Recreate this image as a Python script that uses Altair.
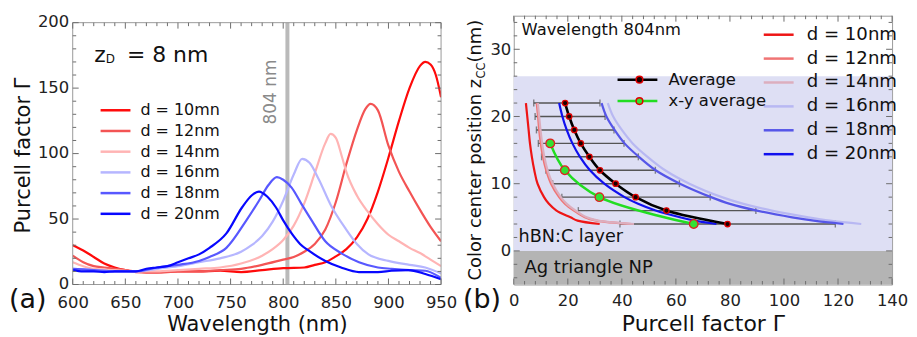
import altair as alt
import pandas as pd

FONT = "DejaVu Sans"
TXT = "#111111"
TICK = "#6e6e6e"
FRAME = "#9a9a9a"

# ---------------- panel (a): Purcell factor vs wavelength ----------------
A_LABELS = ["d = 10mn", "d = 12nm", "d = 14nm", "d = 16nm", "d = 18nm", "d = 20nm"]
A_COLORS = ["#ff0a0a", "#f35454", "#ffb4b4", "#b6b6ff", "#5858ff", "#0808ff"]

WL_D10 = [600, 610, 620, 630, 640, 650, 660, 670, 680, 700, 720, 740, 760, 780, 800,
          820, 830, 840, 850, 860, 870, 880, 890, 900, 910, 920, 930, 935, 940, 945, 950]
PF_D10 = [30, 26, 21, 16, 13, 11, 10, 9.5, 9.5, 10, 10, 10.5, 9.5, 11, 12.5,
          13, 15, 17, 21.5, 27, 36, 50, 71, 97, 125, 150, 167, 170, 168, 160, 143]
WL_D12 = [600, 610, 620, 630, 640, 650, 660, 680, 700, 720, 740, 760, 780, 800, 810,
          820, 830, 840, 850, 860, 870, 878, 883, 890, 900, 910, 920, 930, 940, 950]
PF_D12 = [22, 17, 14, 13, 12, 11, 9.5, 9, 10, 10, 11, 12, 15, 19, 21,
          25, 31, 42, 63, 92, 118, 134, 138, 133, 106, 86, 71, 57, 44, 33]
WL_D14 = [600, 610, 620, 640, 660, 680, 700, 720, 740, 760, 780, 790, 800, 810, 820,
          830, 840, 845, 850, 856, 860, 870, 880, 890, 900, 910, 920, 930, 940, 950]
PF_D14 = [17, 14, 12, 11, 10, 10, 11, 12, 13, 16, 22, 27, 34, 45, 62,
          85, 108, 115, 112, 97, 86, 68, 56, 46, 38, 33, 28, 24, 19, 14]
WL_D16 = [600, 620, 640, 660, 680, 700, 720, 740, 760, 770, 780, 790, 800, 810, 818,
          825, 834, 845, 859, 870, 881, 900, 920, 935, 950]
PF_D16 = [12, 11, 10, 10, 12, 14, 17, 20, 25, 30, 37, 48, 64, 84, 96,
          93, 80, 61, 43, 31, 23, 18, 15, 13, 8.5]
WL_D18 = [600, 620, 640, 660, 680, 700, 720, 730, 746, 765, 777, 786, 794, 800, 808,
          817, 827, 840, 855, 872, 890, 903, 920, 935, 948, 950]
PF_D18 = [12, 11, 10, 10, 13, 15, 18, 21, 28, 49, 64, 76, 82, 80, 74,
          62, 49, 33, 24, 17, 13, 12, 11, 10.5, 6, 5]
WL_D20 = [600, 610, 620, 630, 640, 650, 660, 670, 680, 690, 700, 710, 720, 730, 746, 761,
          770, 777, 785, 793, 800, 808, 816, 824, 840, 855, 872, 890, 903, 919, 935, 950]
PF_D20 = [11, 10, 10, 9.5, 10, 10, 10, 12, 13, 14, 17, 20, 23, 28, 39, 59,
          68, 71, 67, 59, 49, 39, 31, 26, 18, 13, 9.5, 9.5, 10.5, 11, 8, 4]

A_SERIES = [(WL_D10, PF_D10), (WL_D12, PF_D12), (WL_D14, PF_D14),
            (WL_D16, PF_D16), (WL_D18, PF_D18), (WL_D20, PF_D20)]

A_XMAJ = [600, 650, 700, 750, 800, 850, 900, 950]
A_XMIN = [v for v in range(600, 951, 10) if v not in A_XMAJ]
A_YMAJ = [0, 50, 100, 150, 200]
A_YMIN = [v for v in range(0, 201, 10) if v not in A_YMAJ]
LAMBDA_MARK = [804]

# ---------------- panel (b): Purcell factor vs colour-centre position ----------------
B_LABELS = ["d = 10nm", "d = 12nm", "d = 14nm", "d = 16nm", "d = 18nm", "d = 20nm"]
B_COLORS = ["#ee1515", "#f07474", "#dcaebe", "#b8b8f2", "#5656e8", "#1010ee"]

Z_CURVE = [22, 20, 18, 16, 14, 12, 10, 8, 7, 6, 5, 4.5, 4]
PF_B10 = [4.5, 5.0, 5.5, 6.0, 6.7, 7.6, 8.8, 11.2, 13.0, 15.8, 21.0, 23.6, 31.8]
PF_B12 = [8.5, 9.0, 9.4, 10.0, 10.8, 12.0, 13.8, 16.8, 19.0, 22.3, 26.3, 30.5, 43.6]
PF_B14 = [8.9, 9.4, 9.9, 10.5, 11.3, 12.5, 14.4, 17.4, 19.6, 22.9, 27.0, 31.3, 44.5]
PF_B16 = [34.8, 36.8, 40.0, 44.0, 49.5, 56.0, 65.0, 77.0, 85.0, 95.5, 109.0, 117.0, 128.6]
PF_B18 = [32.5, 34.3, 37.3, 41.0, 46.3, 52.5, 61.5, 73.0, 80.0, 90.0, 103.0, 111.0, 122.0]
PF_B20 = [16.8, 18.0, 19.6, 21.7, 24.5, 28.2, 33.5, 41.0, 46.0, 52.5, 61.5, 67.0, 75.0]
B_SERIES = [PF_B10, PF_B12, PF_B14, PF_B16, PF_B18, PF_B20]

Z_AVG = [22, 20, 18, 16, 14, 12, 10, 8, 6, 4]
PF_AVG = [19.0, 20.5, 22.4, 24.8, 28.0, 31.9, 37.7, 45.1, 56.5, 79.1]
PF_ERR_LO = [7.4, 7.9, 8.4, 9.1, 10.3, 11.9, 14.4, 17.8, 23.9, 39.3]
PF_ERR_HI = [31.9, 33.8, 37.1, 40.8, 46.1, 52.4, 61.3, 72.7, 89.6, 119.0]
Z_XY = [16, 12, 8, 4]
PF_XY = [13.5, 18.9, 31.7, 66.6]
AVG_LABELS = ["Average", "x-y average"]
AVG_MARKER_KEYS = ["marker: Average", "marker: x-y average"]

LAYER_HBN = (0, 26)
LAYER_AG = (-5, 0)

B_XMAJ = [0, 20, 40, 60, 80, 100, 120, 140]
B_XMIN = [v for v in range(0, 141, 4) if v not in B_XMAJ]
B_YMAJ = [0, 10, 20, 30]
B_YMIN = [v for v in range(-4, 35, 2) if v not in B_YMAJ]

WA, HA = 370, 270      # panel (a) group; its frame starts A_TOP px below the group top
A_TOP = 7
WB, HB = 380, 270


def ticks(xfield, xmaj, xmin, yfield, ymaj, ymin, xenc, yenc, W, H, top=0):
    out = []
    for vals, L in ((xmaj, 6), (xmin, 3.5)):
        d = pd.DataFrame({xfield: vals})
        out.append(alt.Chart(d).mark_rule(color=TICK, strokeWidth=1).encode(
            x=xenc, y=alt.value(H), y2=alt.value(H - L)))
        out.append(alt.Chart(d).mark_rule(color=TICK, strokeWidth=1).encode(
            x=xenc, y=alt.value(top), y2=alt.value(top + L)))
    for vals, L in ((ymaj, 6), (ymin, 3.5)):
        d = pd.DataFrame({yfield: vals})
        out.append(alt.Chart(d).mark_rule(color=TICK, strokeWidth=1).encode(
            y=yenc, x=alt.value(0), x2=alt.value(L)))
        out.append(alt.Chart(d).mark_rule(color=TICK, strokeWidth=1).encode(
            y=yenc, x=alt.value(W), x2=alt.value(W - L)))
    return out


def frame(W, H, top):
    one = pd.DataFrame({"t": [0]})
    r = lambda **kw: alt.Chart(one).mark_rule(color=FRAME, strokeWidth=1).encode(**kw)
    return [r(x=alt.value(0), x2=alt.value(W), y=alt.value(top)),
            r(x=alt.value(0), x2=alt.value(W), y=alt.value(H)),
            r(x=alt.value(0), y=alt.value(top), y2=alt.value(H)),
            r(x=alt.value(W), y=alt.value(top), y2=alt.value(H))]


def label_text(t, x, y, size, angle=0, align="left", baseline="alphabetic", color=TXT):
    return alt.Chart(pd.DataFrame({"t": [t]})).mark_text(
        font=FONT, fontSize=size, angle=angle, align=align, baseline=baseline,
        color=color).encode(x=alt.value(x), y=alt.value(y), text="t:N")


def top_spacer(k):
    # invisible rule that fixes how far the panel reaches above its group top
    return alt.Chart(pd.DataFrame({"t": [0]})).mark_rule(strokeOpacity=0, strokeWidth=0.01).encode(
        x=alt.value(1), y=alt.value(-k), y2=alt.value(0))


# ---------- build panel (a) ----------
rows = []
for lab, (wl, pf) in zip(A_LABELS, A_SERIES):
    for w, p in zip(wl, pf):
        rows.append({"series": lab, "wl": w, "pf": p})
df_a = pd.DataFrame(rows)

AX_A_X = alt.Axis(values=A_XMAJ, ticks=False, tickSize=0, domain=False, grid=False,
                  labelFont=FONT, labelFontSize=16.5, labelColor="#222", labelPadding=10,
                  labelFlush=False,
                  title="Wavelength (nm)", titleFont=FONT, titleFontSize=21,
                  titleFontWeight="normal", titleColor=TXT, titlePadding=3)
AX_A_Y = alt.Axis(values=A_YMAJ, ticks=False, tickSize=0, domain=False, grid=False,
                  labelFont=FONT, labelFontSize=16.5, labelColor="#222", labelPadding=4,
                  labelFlush=False, labelOffset=-1,
                  title="Purcell factor Γ", titleFont=FONT, titleFontSize=21, titleY=140,
                  titleFontWeight="normal", titleColor=TXT, titlePadding=4)
XA = alt.X("wl:Q", scale=alt.Scale(domain=[600, 950], nice=False, zero=False), axis=AX_A_X)
YA = alt.Y("pf:Q", scale=alt.Scale(domain=[0, 200], range=[HA, A_TOP], nice=False, zero=False),
           axis=AX_A_Y)

leg_a = alt.Legend(orient="none", legendX=35, legendY=80 + A_TOP, title=None,
                   symbolType="M-3,0H3", symbolSize=100, symbolStrokeWidth=2.5,
                   labelFont=FONT, labelFontSize=16, labelColor=TXT, labelOffset=17,
                   rowPadding=4.8, padding=0)

mark804 = alt.Chart(pd.DataFrame({"wl": LAMBDA_MARK})).mark_rule(
    color="#bababa", strokeWidth=4).encode(x=XA, y=alt.value(A_TOP), y2=alt.value(HA))
lines_a = alt.Chart(df_a).mark_line(strokeWidth=2.2, interpolate="monotone", clip=True).encode(
    x=XA, y=YA,
    color=alt.Color("series:N", scale=alt.Scale(domain=A_LABELS, range=A_COLORS),
                    sort=A_LABELS, legend=leg_a))

txt804 = alt.Chart(pd.DataFrame({"wl": [793], "pf": [147], "t": ["804 nm"]})).mark_text(
    font=FONT, fontSize=17, angle=270, align="center", baseline="alphabetic",
    color="#8a8a8a").encode(x=XA, y=YA, text="t:N")
zd_z = alt.Chart(pd.DataFrame({"wl": [620.5], "pf": [175.5], "t": ["z"]})).mark_text(
    font=FONT, fontSize=22, align="left", color=TXT).encode(x=XA, y=YA, text="t:N")
zd_d = alt.Chart(pd.DataFrame({"wl": [631.5], "pf": [172.5], "t": ["D"]})).mark_text(
    font=FONT, fontSize=12, align="left", color=TXT).encode(x=XA, y=YA, text="t:N")
zd_rest = alt.Chart(pd.DataFrame({"wl": [651.5], "pf": [175.5], "t": ["= 8 nm"]})).mark_text(
    font=FONT, fontSize=22, align="left", color=TXT).encode(x=XA, y=YA, text="t:N")
tag_a = label_text("(a)", -64, 286, 27, baseline="middle")

panel_a = alt.layer(
    top_spacer(6), mark804, lines_a, txt804, zd_z, zd_d, zd_rest, tag_a,
    *frame(WA, HA, A_TOP),
    *ticks("wl", A_XMAJ, A_XMIN, "pf", A_YMAJ, A_YMIN, XA, YA, WA, HA, top=A_TOP)
).properties(width=WA, height=HA, view=alt.ViewBackground(stroke="transparent"))

# ---------- build panel (b) ----------
rows = []
for lab, pf in zip(B_LABELS, B_SERIES):
    for z, p in zip(Z_CURVE, pf):
        rows.append({"series": lab, "z": z, "pf": p})
df_b = pd.DataFrame(rows)
df_avg_line = pd.concat([
    pd.DataFrame({"kind": AVG_LABELS[0], "z": Z_AVG, "pf": PF_AVG}),
    pd.DataFrame({"kind": AVG_LABELS[1], "z": Z_XY, "pf": PF_XY})])
df_avg_pt = pd.DataFrame({"kind2": AVG_MARKER_KEYS[0], "z": Z_AVG, "pf": PF_AVG})
df_xy_pt = pd.DataFrame({"kind2": AVG_MARKER_KEYS[1], "z": Z_XY, "pf": PF_XY})
df_err = pd.DataFrame({"z": Z_AVG, "pf": PF_ERR_LO, "pf2": PF_ERR_HI})

AX_B_X = alt.Axis(values=B_XMAJ, ticks=False, tickSize=0, domain=False, grid=False,
                  labelFont=FONT, labelFontSize=16.5, labelColor="#222", labelPadding=8,
                  labelFlush=False,
                  title="Purcell factor Γ", titleFont=FONT, titleFontSize=22,
                  titleFontWeight="normal", titleColor=TXT, titlePadding=5)
AX_B_Y = alt.Axis(values=B_YMAJ, ticks=False, tickSize=0, domain=False, grid=False,
                  labelFont=FONT, labelFontSize=16.5, labelColor="#222", labelPadding=3,
                  labelFlush=False, title=None)
SCALE_BX = alt.Scale(domain=[0, 140], nice=False, zero=False)
XB = alt.X("pf:Q", scale=SCALE_BX, axis=AX_B_X)
YB = alt.Y("z:Q", scale=alt.Scale(domain=[-5, 35], nice=False, zero=False), axis=AX_B_Y)

bg_hbn = alt.Chart(pd.DataFrame({"pf": [0], "pf2": [140], "z": [LAYER_HBN[0]], "z2": [LAYER_HBN[1]]})
                   ).mark_rect(color="#dedff4").encode(x=XB, x2="pf2:Q", y=YB, y2="z2:Q")
bg_ag = alt.Chart(pd.DataFrame({"pf": [0], "pf2": [140], "z": [LAYER_AG[0]], "z2": [LAYER_AG[1]]})
                  ).mark_rect(color="#b4b4b4").encode(x=XB, x2="pf2:Q", y=YB, y2="z2:Q")

err_rule = alt.Chart(df_err).mark_rule(color="#555555", strokeWidth=1.4).encode(
    x=XB, x2="pf2:Q", y=YB)
err_lo = alt.Chart(df_err).mark_tick(color="#555555", orient="vertical", size=7,
                                     thickness=1.4).encode(x=XB, y=YB)
err_hi = alt.Chart(df_err).mark_tick(color="#555555", orient="vertical", size=7,
                                     thickness=1.4).encode(
    x=alt.X("pf2:Q", scale=SCALE_BX, axis=AX_B_X), y=YB)

leg_b = alt.Legend(orient="none", legendX=257, legendY=10, title=None,
                   symbolType="M-3,0H3", symbolSize=100, symbolStrokeWidth=2.5,
                   labelFont=FONT, labelFontSize=18.2, labelColor=TXT, labelOffset=19,
                   rowPadding=5, padding=0)
lines_b = alt.Chart(df_b).mark_line(strokeWidth=2.2, interpolate="catmull-rom").encode(
    x=XB, y=YB, order=alt.Order("z:Q", sort="descending"),
    color=alt.Color("series:N", scale=alt.Scale(domain=B_LABELS, range=B_COLORS),
                    sort=B_LABELS, legend=leg_b))

leg_avg_line = alt.Legend(orient="none", legendX=116, legendY=56, title=None,
                          symbolType="M-4,0H4", symbolSize=100, symbolStrokeWidth=2.5,
                          labelFont=FONT, labelFontSize=16.5, labelColor=TXT, labelOffset=23,
                          rowPadding=4.5, padding=0)
leg_avg_pt = alt.Legend(orient="none", legendX=118, legendY=56, title=None,
                        symbolType="circle", symbolSize=45, symbolStrokeColor="#e00000",
                        symbolStrokeWidth=1.5, labelFont=FONT, labelFontSize=16.5,
                        labelExpr="''", rowPadding=4.5, padding=0)
avg_lines = alt.Chart(df_avg_line).mark_line(interpolate="catmull-rom", strokeWidth=2.6).encode(
    x=XB, y=YB, order=alt.Order("z:Q", sort="descending"),
    stroke=alt.Stroke("kind:N", scale=alt.Scale(domain=AVG_LABELS, range=["#000000", "#22dd22"]),
                      legend=leg_avg_line))
fill_scale = alt.Scale(domain=AVG_MARKER_KEYS, range=["#1a0000", "#33e033"])
avg_pts = alt.Chart(df_avg_pt).mark_point(filled=True, size=30, stroke="#e00000",
                                          strokeWidth=1.3, opacity=1).encode(
    x=XB, y=YB, fill=alt.Fill("kind2:N", scale=fill_scale, legend=leg_avg_pt))
xy_pts = alt.Chart(df_xy_pt).mark_point(filled=True, size=75, stroke="#e02020",
                                        strokeWidth=1.3, opacity=1).encode(
    x=XB, y=YB, fill=alt.Fill("kind2:N", scale=fill_scale, legend=leg_avg_pt))

t_wave = alt.Chart(pd.DataFrame({"pf": [2.9], "z": [32.9], "t": ["Wavelength 804nm"]})).mark_text(
    font=FONT, fontSize=16.4, align="left", baseline="middle", color=TXT).encode(x=XB, y=YB, text="t:N")
t_hbn = alt.Chart(pd.DataFrame({"pf": [1.8], "z": [2.1], "t": ["hBN:C layer"]})).mark_text(
    font=FONT, fontSize=17.7, align="left", baseline="middle", color=TXT).encode(x=XB, y=YB, text="t:N")
t_ag = alt.Chart(pd.DataFrame({"pf": [4.0], "z": [-2.6], "t": ["Ag triangle NP"]})).mark_text(
    font=FONT, fontSize=18, align="left", baseline="middle", color=TXT).encode(x=XB, y=YB, text="t:N")

ytitle_1 = label_text("Color center position z", -33, 266, 18, angle=270)
ytitle_2 = label_text("CC", -28.5, 63, 11.5, angle=270)
ytitle_3 = label_text("(nm)", -33, 47, 18, angle=270)
tag_b = label_text("(b)", -51, 286, 27, baseline="middle")

panel_b = alt.layer(
    top_spacer(6), bg_hbn, bg_ag, err_rule, err_lo, err_hi, lines_b, avg_lines, avg_pts, xy_pts,
    t_wave, t_hbn, t_ag, ytitle_1, ytitle_2, ytitle_3, tag_b,
    *ticks("pf", B_XMAJ, B_XMIN, "z", B_YMAJ, B_YMIN, XB, YB, WB, HB)
).properties(width=WB, height=HB)

chart = alt.hconcat(panel_a, panel_b, spacing=4).resolve_scale(
    color="independent", stroke="independent", fill="independent"
).properties(padding=0).configure_view(stroke=FRAME, strokeWidth=1)

chart.save("out.html", embed_options={"renderer": "svg", "actions": False})
